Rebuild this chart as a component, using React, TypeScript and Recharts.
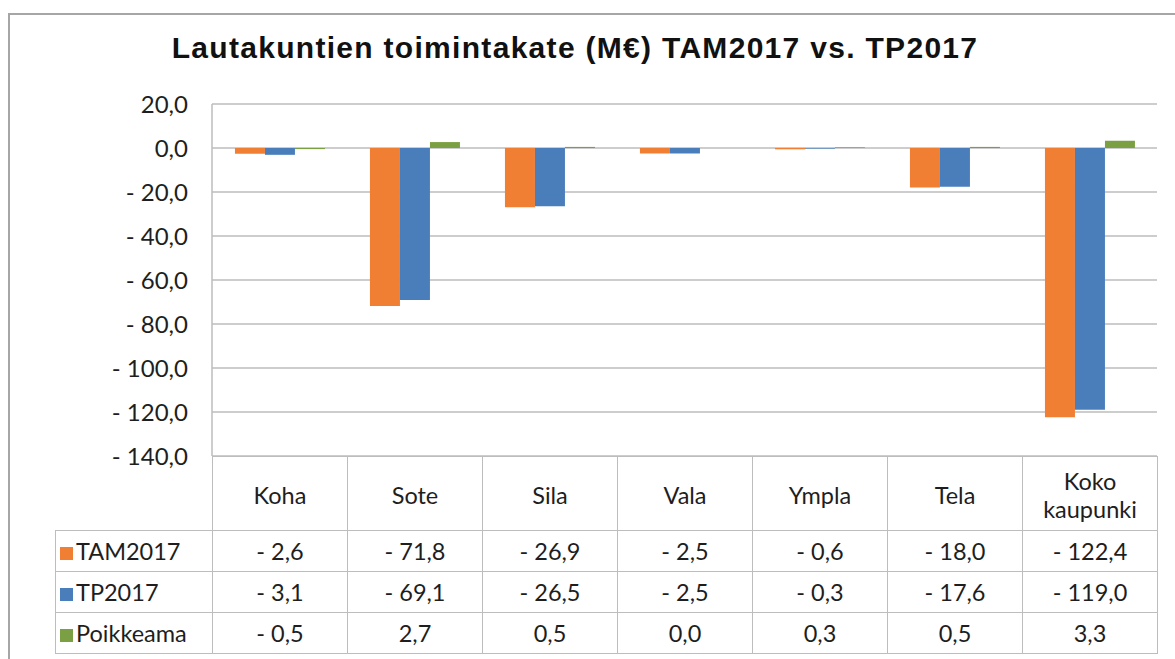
import React from "react";
import { BarChart, Bar, XAxis, YAxis, CartesianGrid } from "recharts";

const CATEGORIES = ["Koha", "Sote", "Sila", "Vala", "Ympla", "Tela", "Koko kaupunki"];
const TAM2017 = [-2.6, -71.8, -26.9, -2.5, -0.6, -18.0, -122.4];
const TP2017 = [-3.1, -69.1, -26.5, -2.5, -0.3, -17.6, -119.0];
const POIKKEAMA = [-0.5, 2.7, 0.5, 0.0, 0.3, 0.5, 3.3];
const Y_TICKS = [20, 0, -20, -40, -60, -80, -100, -120, -140];

const SERIES = [
  { key: "tam", name: "TAM2017", color: "#F07F33", values: TAM2017 },
  { key: "tp", name: "TP2017", color: "#4A7EBB", values: TP2017 },
  { key: "poik", name: "Poikkeama", color: "#7BA043", values: POIKKEAMA },
];

const data = CATEGORIES.map((c, i) => ({
  name: c,
  tam: TAM2017[i],
  tp: TP2017[i],
  poik: POIKKEAMA[i],
}));

const FONT = "Lato, 'Open Sans', sans-serif";
const GRID = "#BDBDBD";
const TEXT = "#1E1E1E";

// Excel style: "- 71,8"
function fmt(v: number) {
  const s = Math.abs(v).toFixed(1).replace(".", ",");
  return v < 0 ? `- ${s}` : s;
}

const PLOT_LEFT = 212;
const PLOT_RIGHT = 1157;
const PLOT_TOP = 104;
const PLOT_BOTTOM = 456;
const COL_W = (PLOT_RIGHT - PLOT_LEFT) / CATEGORIES.length;
const LEGEND_LEFT = 55;

const cell: React.CSSProperties = {
  border: `1px solid ${GRID}`,
  textAlign: "center",
  padding: 0,
  color: TEXT,
};

export default function App() {
  const chartH = 470;
  return (
    <div
      style={{
        position: "fixed",
        left: 0,
        top: 0,
        width: 1175,
        height: 659,
        background: "#fff",
        fontFamily: FONT,
        overflow: "hidden",
      }}
    >
      {/* outer frame */}
      <div
        style={{
          position: "absolute",
          left: 8,
          top: 13,
          width: 1180,
          height: 700,
          border: "2px solid #A6A6A6",
        }}
      />
      <div
        style={{
          position: "absolute",
          left: 0,
          top: 31,
          width: 1150,
          textAlign: "center",
          fontWeight: 700,
          fontSize: 30,
          letterSpacing: 1.3,
          color: "#111",
          fontFamily: "'Liberation Sans', Arial, sans-serif",
        }}
      >
        Lautakuntien toimintakate (M€) TAM2017 vs. TP2017
      </div>
      <div style={{ position: "absolute", left: 0, top: 0 }}>
        <BarChart
          width={1175}
          height={chartH}
          data={data}
          margin={{ top: PLOT_TOP, right: 1175 - PLOT_RIGHT, bottom: chartH - PLOT_BOTTOM, left: 0 }}
          barCategoryGap="17%"
          barGap={0}
        >
          <CartesianGrid vertical={false} stroke={GRID} strokeWidth={1.5} />
          <XAxis dataKey="name" hide />
          <YAxis
            width={PLOT_LEFT}
            domain={[-140, 20]}
            ticks={Y_TICKS}
            tickFormatter={fmt}
            tickSize={0}
            tickMargin={24}
            axisLine={{ stroke: GRID, strokeWidth: 1.5 }}
            tickLine={false}
            tick={{ fontSize: 24, fill: TEXT, fontFamily: FONT }}
            interval={0}
          />
          {SERIES.map((s) => (
            <Bar key={s.key} dataKey={s.key} name={s.name} fill={s.color} isAnimationActive={false} />
          ))}
        </BarChart>
      </div>

      {/* data table */}
      <table
        style={{
          position: "absolute",
          left: LEGEND_LEFT,
          top: PLOT_BOTTOM,
          borderCollapse: "collapse",
          fontFamily: FONT,
          fontSize: 23.5,
          tableLayout: "fixed",
        }}
      >
        <colgroup>
          <col style={{ width: PLOT_LEFT - LEGEND_LEFT }} />
          {CATEGORIES.map((c) => (
            <col key={c} style={{ width: COL_W }} />
          ))}
        </colgroup>
        <tbody>
          <tr style={{ height: 74 }}>
            <td style={{ border: "none", borderRight: `1px solid ${GRID}` }} />
            {CATEGORIES.map((c) => (
              <td key={c} style={{ ...cell, lineHeight: "28px", paddingTop: 2 }}>
                {c === "Koko kaupunki" ? (
                  <>
                    Koko
                    <br />
                    kaupunki
                  </>
                ) : (
                  c
                )}
              </td>
            ))}
          </tr>
          {SERIES.map((s) => (
            <tr key={s.key} style={{ height: 41 }}>
              <td style={{ ...cell, textAlign: "left", paddingLeft: 4, whiteSpace: "nowrap" }}>
                <span
                  style={{
                    display: "inline-block",
                    width: 13,
                    height: 13,
                    background: s.color,
                    marginRight: 3,
                  }}
                />
                {s.name}
              </td>
              {s.values.map((v, i) => (
                <td key={i} style={cell}>
                  {fmt(v)}
                </td>
              ))}
            </tr>
          ))}
        </tbody>
      </table>
    </div>
  );
}
